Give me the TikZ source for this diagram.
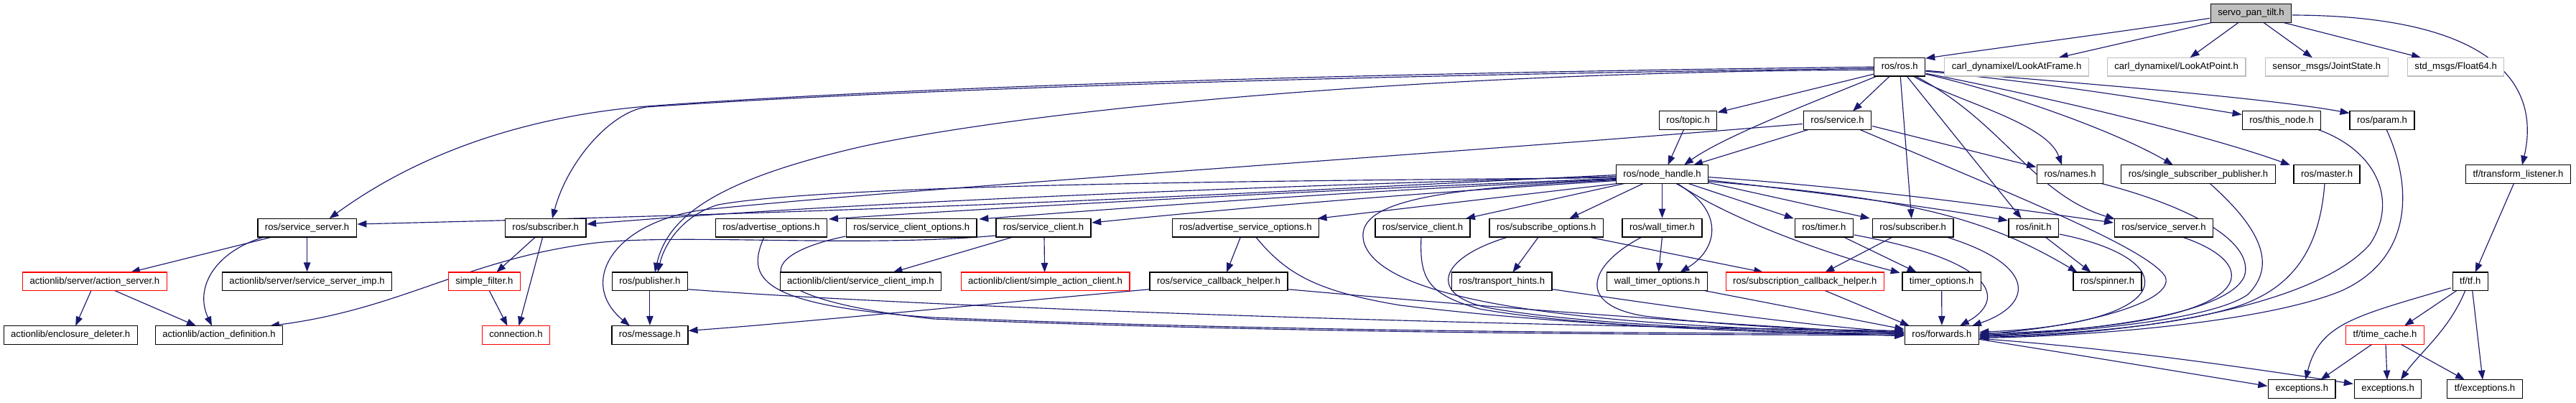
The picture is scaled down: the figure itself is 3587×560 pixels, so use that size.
\documentclass[tikz,border=0pt]{standalone}
\usepackage{fontspec}
\setmainfont{Liberation Sans}
\usetikzlibrary{arrows.meta,calc}
\definecolor{edgeblue}{RGB}{25,25,112}
\definecolor{lgray}{RGB}{191,191,191}
\newcommand{\nodefnt}{\fontsize{13.1}{15}\selectfont}
\pgfdeclarelayer{bg}
\pgfsetlayers{bg,main}
\tikzset{
  box/.style={draw=black, line width=1.3pt, fill=white, font=\nodefnt, inner xsep=10pt, inner ysep=0pt,
    minimum height=25.7pt, text height=9.5pt, text depth=2.5pt},
  redbox/.style={box, draw=red},
  graybox/.style={box, draw=lgray},
  rootbox/.style={box, fill=lgray},
  e/.style={draw=edgeblue, line width=1.15pt, -{Triangle[length=13pt,width=9.5pt]}}
}
\begin{document}
\begin{tikzpicture}[x=1pt,y=-1pt]
\useasboundingbox (0,0) rectangle (3587,560);
% row A
\node[rootbox] (S) at (3134.5,18.4) {servo\_pan\_tilt.h};
% row B
\node[box] (R) at (2645.2,93.2) {ros/ros.h};
\node[graybox] (LAF) at (2808,93.2) {carl\_dynamixel/LookAtFrame.h};
\node[graybox] (LAP) at (3030.6,93.2) {carl\_dynamixel/LookAtPoint.h};
\node[graybox] (JS) at (3239.8,93.2) {sensor\_msgs/JointState.h};
\node[graybox] (F64) at (3419.6,93.2) {std\_msgs/Float64.h};
% row C
\node[box] (TOP) at (2350.6,167.5) {ros/topic.h};
\node[box] (SRV) at (2558.5,167.5) {ros/service.h};
\node[box] (TN) at (3177,167.5) {ros/this\_node.h};
\node[box] (PAR) at (3317,167.5) {ros/param.h};
% row D
\node[box] (NH) at (2314.5,242.5) {ros/node\_handle.h};
\node[box] (NAM) at (2882.6,242.5) {ros/names.h};
\node[box] (SSP) at (3061,242.5) {ros/single\_subscriber\_publisher.h};
\node[box] (MAS) at (3240,242.5) {ros/master.h};
\node[box] (TL) at (3506.5,242.5) {tf/transform\_listener.h};
% row E
\node[box] (SS1) at (427.6,317) {ros/service\_server.h};
\node[box] (SUB1) at (759.7,317) {ros/subscriber.h};
\node[box] (AO) at (1074,317) {ros/advertise\_options.h};
\node[box] (SCO) at (1269.3,317) {ros/service\_client\_options.h};
\node[box] (SC1) at (1453,317) {ros/service\_client.h};
\node[box] (ASO) at (1734.5,317) {ros/advertise\_service\_options.h};
\node[box] (SC2) at (1981,317) {ros/service\_client.h};
\node[box] (SO) at (2153.3,317) {ros/subscribe\_options.h};
\node[box] (WT) at (2314.5,317) {ros/wall\_timer.h};
\node[box] (TIM) at (2539.8,317) {ros/timer.h};
\node[box] (SUB2) at (2663.7,317) {ros/subscriber.h};
\node[box] (INI) at (2831.8,317) {ros/init.h};
\node[box] (SS2) at (3013,317) {ros/service\_server.h};
% row F
\node[redbox] (AS) at (131.9,391.8) {actionlib/server/action\_server.h};
\node[box] (SSI) at (427.6,391.8) {actionlib/server/service\_server\_imp.h};
\node[redbox] (SF) at (674.3,391.8) {simple\_filter.h};
\node[box] (PUB) at (904.9,391.8) {ros/publisher.h};
\node[box] (SCI) at (1198.5,391.8) {actionlib/client/service\_client\_imp.h};
\node[redbox] (SAC) at (1455.6,391.8) {actionlib/client/simple\_action\_client.h};
\node[box] (SCBH) at (1697,391.8) {ros/service\_callback\_helper.h};
\node[box] (TH) at (2091.4,391.8) {ros/transport\_hints.h};
\node[box] (WTO) at (2307.5,391.8) {wall\_timer\_options.h};
\node[redbox] (SUBCB) at (2513.3,391.8) {ros/subscription\_callback\_helper.h};
\node[box] (TO) at (2703.7,391.8) {timer\_options.h};
\node[box] (SPN) at (2934.6,391.8) {ros/spinner.h};
\node[box] (TF) at (3439.7,391.8) {tf/tf.h};
% row G
\node[box] (ED) at (98.2,466.4) {actionlib/enclosure\_deleter.h};
\node[box] (AD) at (305,466.4) {actionlib/action\_definition.h};
\node[redbox] (CON) at (718.5,466.4) {connection.h};
\node[box] (MSG) at (904.9,466.4) {ros/message.h};
\node[box] (FWD) at (2703.9,466.4) {ros/forwards.h};
\node[redbox] (TC) at (3321,466.4) {tf/time\_cache.h};
% row H
\node[box] (EX1) at (3205.3,541.4) {exceptions.h};
\node[box] (EX2) at (3325,541.4) {exceptions.h};
\node[box] (TFE) at (3460,541.4) {tf/exceptions.h};

\begin{pgfonlayer}{bg}
% servo_pan_tilt.h
\draw[e] ($(S)+(-57.5,7)$) .. controls (2950,45) and (2800,64) .. ($(R)+(36,-12)$);
\draw[e] ($(S)+(-54.5,13)$) -- ($(LAF)+(58.6,-13)$);
\draw[e] ($(S)+(-17.5,13)$) -- ($(LAP)+(19,-13)$);
\draw[e] ($(S)+(17.5,13)$) -- ($(JS)+(-20,-13)$);
\draw[e] ($(S)+(45,13)$) -- ($(F64)+(-48.6,-13)$);
\draw[e] ($(S)+(57.7,2.6)$) .. controls (3460,22) and (3540,110) .. ($(TL)+(5.5,-12.8)$);
% ros/ros.h
\draw[e] (R.west) .. controls (2000,100) and (1300,118) .. (900,148) .. controls (700,165) and (560,230) .. ($(SS1)+(31,-12.8)$);
\draw[e] ($(R)+(-36.4,2)$) .. controls (2000,103) and (1300,121) .. (900,149) .. controls (850,156) and (790,225) .. ($(SUB1)+(9.3,-12.8)$);
\draw[e] ($(R)+(-36.4,4)$) .. controls (2000,100) and (1450,150) .. (1200,204) .. controls (1000,250) and (930,300) .. ($(PUB)+(7,-12.8)$);
\draw[e] ($(R)+(-36.4,10)$) -- ($(TOP)+(41,-11)$);
\draw[e] ($(R)+(-32,12.9)$) .. controls (2530,140) and (2400,190) .. ($(NH)+(30.5,-12.8)$);
\draw[e] ($(R)+(-14,12.9)$) -- ($(SRV)+(21.5,-12.8)$);
\draw[e] ($(R)+(1,12.9)$) -- ($(SUB2)+(-2,-12.8)$);
\draw[e] ($(R)+(10,12.9)$) -- ($(INI)+(-17,-12.8)$);
\draw[e] ($(R)+(19,12.9)$) .. controls (2720,140) and (2850,170) .. ($(NAM)+(-11.6,-12.8)$);
\draw[e] ($(R)+(22,12.9)$) .. controls (2790,170) and (2830,270) .. ($(SS2)+(-68,-12)$);
\draw[e] ($(R)+(36.4,10)$) .. controls (2800,130) and (2950,185) .. ($(SSP)+(-35,-12.8)$);
\draw[e] ($(R)+(36.4,9)$) .. controls (2800,125) and (3050,180) .. ($(MAS)+(-51,-12.8)$);
\draw[e] ($(R)+(36.4,6)$) .. controls (2850,115) and (3000,140) .. ($(TN)+(-55.4,-8)$);
\draw[e] ($(R)+(36.4,5)$) .. controls (2850,112) and (3150,135) .. ($(PAR)+(-45.5,-10)$);
% topic, service
\draw[e] ($(TOP)+(-6,12.8)$) -- ($(NH)+(8,-12.8)$);
\draw[e] ($(SRV)+(-40,12.8)$) -- ($(NH)+(43.5,-12.8)$);
\draw[e] ($(SRV)+(48.7,8)$) -- ($(NAM)+(-47.3,-10)$);
\draw[e] ($(SRV)+(-48.7,5)$) .. controls (2000,215) and (1300,260) .. (1000,290) .. controls (860,300) and (800,390) .. ($(MSG)+(-28,-12.8)$);
\draw[e] ($(SRV)+(31,12.8)$) .. controls (2800,270) and (2990,345) .. (3015,385) .. controls (3030,420) and (2900,455) .. ($(FWD)+(52.4,-1)$);
% node_handle.h
\draw[e] ($(NH)+(-63.6,1)$) .. controls (1800,265) and (1400,290) .. ($(SS1)+(69.8,-5)$);
\draw[e] ($(NH)+(-63.6,3)$) .. controls (1800,258) and (1200,280) .. ($(SUB1)+(57.4,-5)$);
\draw[e] ($(NH)+(-63.6,5)$) .. controls (1700,252) and (1150,258) .. (1000,285) .. controls (950,300) and (925,340) .. ($(PUB)+(11,-12.8)$);
\draw[e] ($(NH)+(-63.6,6)$) .. controls (1900,262) and (1450,285) .. ($(AO)+(80,-12)$);
\draw[e] ($(NH)+(-63.6,7)$) .. controls (1900,265) and (1600,287) .. ($(SCO)+(94,-12)$);
\draw[e] ($(NH)+(-63.6,9)$) .. controls (1950,270) and (1700,292) .. ($(SC1)+(67.2,-7)$);
\draw[e] ($(NH)+(-60,12.8)$) -- ($(ASO)+(100,-12.8)$);
\draw[e] ($(NH)+(-52,12.8)$) -- ($(SC2)+(60,-12.8)$);
\draw[e] ($(NH)+(-26,12.8)$) -- ($(SO)+(32,-12.8)$);
\draw[e] (NH.south) -- (WT.north);
\draw[e] ($(NH)+(19,12.8)$) .. controls (2400,290) and (2395,345) .. ($(WTO)+(32,-12.8)$);
\draw[e] ($(NH)+(36,12.8)$) -- ($(TIM)+(-42,-12.8)$);
\draw[e] ($(NH)+(61,11)$) -- ($(SUB2)+(-60,-13)$);
\draw[e] ($(NH)+(63.6,8)$) .. controls (2550,270) and (2700,290) .. ($(INI)+(-36,-10)$);
\draw[e] ($(NH)+(63.6,4)$) .. controls (2600,262) and (2800,290) .. ($(SS2)+(-70,-7)$);
\draw[e] ($(NH)+(63.6,10)$) .. controls (2650,275) and (2760,300) .. ($(SPN)+(-42,-12.8)$);
\draw[e] ($(NH)+(21,12.8)$) .. controls (2400,300) and (2530,350) .. ($(TO)+(-58,-12)$);
\draw[e] ($(NH)+(-63.6,8)$) .. controls (2000,262) and (1880,280) .. (1900,340) .. controls (1930,420) and (2200,455) .. ($(FWD)+(-52.4,-3)$);
% into forwards from the left
\draw[e] ($(PUB)+(53.3,11)$) .. controls (1300,428) and (2000,452) .. ($(FWD)+(-52.4,-6)$);
\draw[e] ($(AO)+(-10,12.8)$) .. controls (1040,385) and (1050,425) .. (1300,442) .. controls (1800,462) and (2300,464) .. ($(FWD)+(-52.4,-2)$);
\draw[e] ($(SCO)+(-92,12)$) .. controls (1050,355) and (1030,415) .. (1300,444) .. controls (1800,464) and (2300,466) .. ($(FWD)+(-52.4,0)$);
\draw[e] ($(SC2)+(-2,12.8)$) .. controls (1976,390) and (1990,410) .. (2060,430) .. controls (2200,455) and (2450,462) .. ($(FWD)+(-52.4,1)$);
\draw[e] ($(SO)+(-53,12.8)$) .. controls (2000,360) and (1990,410) .. (2070,428) .. controls (2200,452) and (2450,461) .. ($(FWD)+(-52.4,-1)$);
\draw[e] ($(TH)+(70.8,11)$) .. controls (2350,430) and (2500,452) .. ($(FWD)+(-52.4,-4)$);
\draw[e] ($(ASO)+(14,12.8)$) .. controls (1790,380) and (1830,405) .. (1950,425) .. controls (2200,455) and (2450,462) .. ($(FWD)+(-52.4,1)$);
\draw[e] ($(SCBH)+(97,11)$) .. controls (2100,430) and (2400,452) .. ($(FWD)+(-52.4,-2)$);
\draw[e] ($(WT)+(-28,12.8)$) .. controls (2210,370) and (2195,425) .. (2290,440) .. controls (2420,455) and (2550,460) .. ($(FWD)+(-52.4,-4)$);
\draw[e] ($(WTO)+(66,12.8)$) -- ($(FWD)+(-52.4,-8)$);
\draw[e] ($(SUBCB)+(28,12.8)$) -- ($(FWD)+(-45,-12.8)$);
\draw[e] (TO.south) -- (FWD.north);
% into forwards from above / right
\draw[e] ($(TIM)+(42,10)$) .. controls (2790,365) and (2790,420) .. ($(FWD)+(25,-12.8)$);
\draw[e] ($(SUB2)+(46,12.8)$) .. controls (2840,370) and (2830,425) .. ($(FWD)+(42,-12.8)$);
\draw[e] ($(INI)+(36,9)$) .. controls (3040,360) and (3040,450) .. ($(FWD)+(52.4,-4)$);
\draw[e] ($(SS2)+(25,12.8)$) .. controls (3160,370) and (3150,455) .. ($(FWD)+(52.4,-2)$);
\draw[e] ($(NAM)+(43,12.8)$) .. controls (3060,290) and (3140,340) .. (3125,385) .. controls (3100,440) and (2900,462) .. ($(FWD)+(52.4,0)$);
\draw[e] ($(SSP)+(16,12.8)$) .. controls (3150,320) and (3170,370) .. (3130,410) .. controls (3080,445) and (2900,462) .. ($(FWD)+(52.4,1)$);
\draw[e] ($(MAS)+(-3,12.8)$) .. controls (3230,350) and (3190,400) .. (3120,425) .. controls (3030,455) and (2880,465) .. ($(FWD)+(52.4,2)$);
\draw[e] ($(TN)+(51,13)$) .. controls (3310,210) and (3340,280) .. (3300,340) .. controls (3230,420) and (3000,465) .. ($(FWD)+(52.4,3)$);
\draw[e] ($(PAR)+(6,12.8)$) .. controls (3360,260) and (3360,360) .. (3260,405) .. controls (3150,450) and (2900,468) .. ($(FWD)+(52.4,4)$);
% forwards out
\draw[e] ($(FWD)+(52.4,6)$) .. controls (2900,495) and (3050,520) .. ($(EX1)+(-48,-4)$);
\draw[e] ($(FWD)+(52.4,5)$) .. controls (2950,485) and (3150,515) .. ($(EX2)+(-48.2,-7)$);
% subscriber / publisher / message
\draw[e] ($(SUB1)+(-14,12.8)$) -- ($(SF)+(17,-12.8)$);
\draw[e] ($(SUB1)+(-4,12.8)$) -- ($(CON)+(4,-12.8)$);
\draw[e] ($(SF)+(7,12.8)$) -- ($(CON)+(-12,-12.8)$);
\draw[e] (PUB.south) -- (MSG.north);
\draw[e] ($(SCBH)+(-97,11)$) .. controls (1300,430) and (1100,450) .. ($(MSG)+(53.7,-6)$);
% actionlib
\draw[e] ($(SS1)+(-48,12.8)$) -- ($(AS)+(50,-12.8)$);
\draw[e] ($(SS1)+(-60,13)$) .. controls (300,350) and (270,400) .. ($(AD)+(-10,-12.8)$);
\draw[e] (SS1.south) -- (SSI.north);
\draw[e] ($(AS)+(-5,12.8)$) -- ($(ED)+(7,-12.8)$);
\draw[e] ($(AS)+(28,12.8)$) -- ($(AD)+(-32,-12.8)$);
\draw[e] ($(SC1)+(-67.2,11)$) .. controls (1200,345) and (950,325) .. (830,338) .. controls (650,360) and (560,430) .. ($(AD)+(71,-12.8)$);
\draw[e] ($(SC1)+(-42,12.8)$) -- ($(SCI)+(45,-12.8)$);
\draw[e] ($(SC1)+(1,12.8)$) -- ($(SAC)+(-1,-12.8)$);
\draw[e] ($(ASO)+(-7,12.8)$) -- ($(SCBH)+(11,-12.8)$);
\draw[e] ($(SO)+(-11,12.8)$) -- ($(TH)+(15,-12.8)$);
\draw[e] ($(SO)+(58,12.8)$) -- ($(SUBCB)+(-58,-12.8)$);
\draw[e] ($(WT)+(0,12.8)$) -- ($(WTO)+(2,-12.8)$);
\draw[e] ($(TIM)+(27,12.8)$) -- ($(TO)+(-35,-12.8)$);
\draw[e] ($(SUB2)+(-28,12.8)$) -- ($(SUBCB)+(28,-12.8)$);
\draw[e] ($(INI)+(16,12.8)$) -- ($(SPN)+(-23,-12.8)$);
% tf
\draw[e] ($(TL)+(-6,12.8)$) -- ($(TF)+(7,-12.8)$);
\draw[e] ($(TF)+(-19,12.8)$) -- ($(TC)+(27,-12.8)$);
\draw[e] ($(TF)+(-27,9)$) .. controls (3280,440) and (3230,450) .. ($(EX1)+(5,-12.8)$);
\draw[e] ($(TF)+(-7,12.8)$) .. controls (3410,460) and (3370,490) .. ($(EX2)+(18,-12.8)$);
\draw[e] ($(TF)+(3,12.8)$) -- ($(TFE)+(-3,-12.8)$);
\draw[e] ($(TC)+(-18,12.8)$) -- ($(EX1)+(26,-12.8)$);
\draw[e] ($(TC)+(1,12.8)$) -- ($(EX2)+(-1,-12.8)$);
\draw[e] ($(TC)+(22,12.8)$) -- ($(TFE)+(-28,-12.8)$);
\end{pgfonlayer}
\end{tikzpicture}
\end{document}
